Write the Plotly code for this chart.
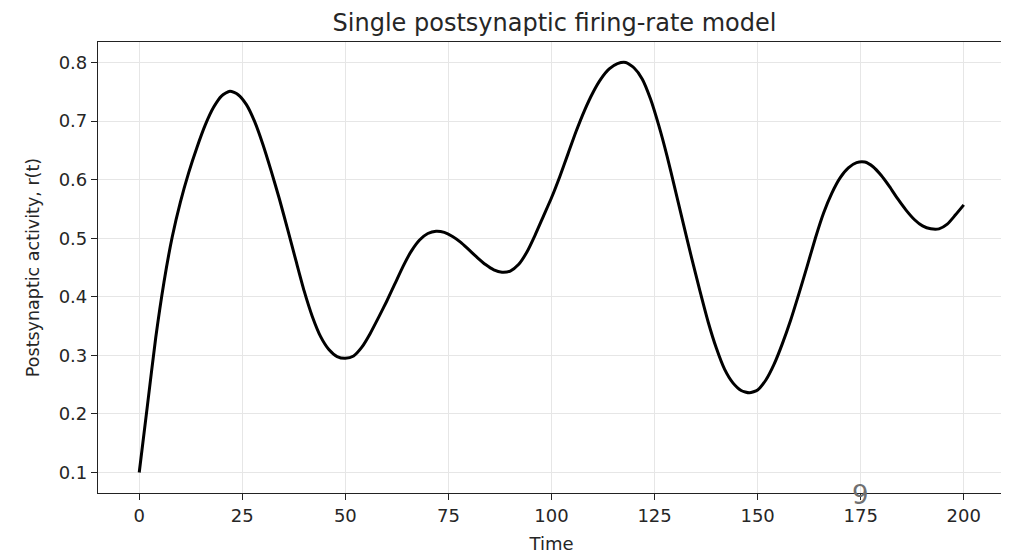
import plotly.graph_objects as go

# values, one every 2 time units
time = [0, 2, 4, 6, 8, 10, 12, 14, 16, 18, 20, 22, 24, 26, 28, 30, 32, 34, 36, 38, 40,
        42, 44, 46, 48, 50, 52, 54, 56, 58, 60, 62, 64, 66, 68, 70, 72, 74, 76, 78, 80,
        82, 84, 86, 88, 90, 92, 94, 96, 98, 100, 102, 104, 106, 108, 110, 112, 114, 116,
        118, 120, 122, 124, 126, 128, 130, 132, 134, 136, 138, 140, 142, 144, 146, 148,
        150, 152, 154, 156, 158, 160, 162, 164, 166, 168, 170, 172, 174, 176, 178, 180,
        182, 184, 186, 188, 190, 192, 194, 196, 198, 200]
rate = [0.100, 0.215, 0.330, 0.425, 0.502, 0.562, 0.612, 0.655, 0.693, 0.723, 0.743,
        0.751, 0.745, 0.728, 0.699, 0.660, 0.615, 0.567, 0.515, 0.462, 0.410,
        0.366, 0.332, 0.310, 0.298, 0.295, 0.299, 0.314, 0.337, 0.364, 0.392,
        0.422, 0.452, 0.478, 0.497, 0.508, 0.512, 0.510, 0.503, 0.493, 0.480,
        0.467, 0.455, 0.446, 0.442, 0.444, 0.455, 0.476, 0.505, 0.537, 0.569,
        0.605, 0.644, 0.683, 0.718, 0.748, 0.772, 0.789, 0.798, 0.800, 0.791,
        0.772, 0.738, 0.693, 0.641, 0.583, 0.524, 0.466, 0.410, 0.357, 0.312,
        0.276, 0.253, 0.240, 0.236, 0.241, 0.258, 0.285, 0.320, 0.360, 0.405,
        0.452, 0.500, 0.543, 0.577, 0.603, 0.620, 0.629, 0.630, 0.622, 0.607,
        0.588, 0.567, 0.548, 0.532, 0.521, 0.516, 0.516, 0.524, 0.540, 0.557]

x_ticks = [0, 25, 50, 75, 100, 125, 150, 175, 200]
y_ticks = [0.1, 0.2, 0.3, 0.4, 0.5, 0.6, 0.7, 0.8]

font = "DejaVu Sans"
ink = "#262626"

fig = go.Figure()
fig.add_trace(go.Scatter(x=time, y=rate, mode="lines",
                         line=dict(color="black", width=3, shape="spline", smoothing=0.6),
                         showlegend=False))

axis_style = dict(showline=True, linecolor="#222", linewidth=1.2, mirror=True,
                  ticks="outside", ticklen=6, tickcolor="#222", tickwidth=1.2,
                  showgrid=True, gridcolor="#e6e6e6", gridwidth=1, zeroline=False,
                  tickfont=dict(family=font, size=18, color=ink))

fig.update_xaxes(range=[-10, 210], tickvals=x_ticks,
                 title=dict(text="Time", font=dict(family=font, size=18, color=ink), standoff=12),
                 **axis_style)
fig.update_yaxes(range=[0.065, 0.835], tickvals=y_ticks, tickformat=".1f",
                 title=dict(text="Postsynaptic activity, r(t)",
                            font=dict(family=font, size=17.5, color=ink), standoff=14),
                 **axis_style)

fig.add_annotation(x=175, y=0, xref="x", yref="paper", text="9", showarrow=False,
                   yanchor="middle", yshift=-2, font=dict(family=font, size=26, color="#707070"))

# the page body has an 8px margin, so the figure is sized and padded to match
fig.update_layout(
    width=1001, height=547,
    margin=dict(l=90, r=4, t=34, b=62),
    paper_bgcolor="white", plot_bgcolor="white",
    title=dict(text="Single postsynaptic firing-rate model", x=0.546, xanchor="center",
               y=0.974, yanchor="middle", font=dict(family=font, size=24, color=ink)),
)

fig.write_html("out.html")
